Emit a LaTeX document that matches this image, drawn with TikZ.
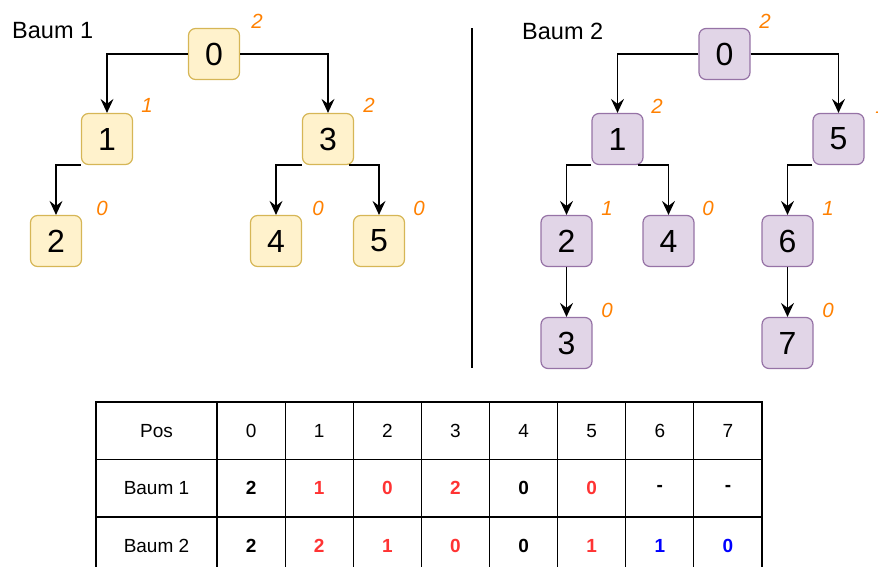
\documentclass[tikz,border=0pt]{standalone}
\usepackage{fontspec}
\setmainfont{Liberation Sans}
\usetikzlibrary{arrows.meta}

\definecolor{yfill}{HTML}{FFF2CC}
\definecolor{ydraw}{HTML}{D6B656}
\definecolor{pfill}{HTML}{E1D5E7}
\definecolor{pdraw}{HTML}{9673A6}
\definecolor{deg}{HTML}{FF8000}
\definecolor{hot}{HTML}{FF3333}
\definecolor{cool}{HTML}{0000FF}

\tikzset{
  treenode/.style={rounded corners=7pt, minimum width=51pt, minimum height=51pt,
    inner sep=0pt, line width=1.2pt, font=\fontsize{32}{32}\selectfont},
  yellownode/.style={treenode, fill=yfill, draw=ydraw},
  purplenode/.style={treenode, fill=pfill, draw=pdraw},
  degree/.style={text=deg, inner sep=0pt, font=\fontsize{20.5}{20.5}\selectfont\itshape},
  title/.style={anchor=west, inner sep=0pt, font=\fontsize{23.5}{23.5}\selectfont},
  link/.style={line width=1.3pt, -{Stealth[length=14pt,width=13pt,inset=5pt]}},
  cell/.style={draw, line width=1.2pt, minimum height=57.5pt, minimum width=68.125pt,
    inner sep=0pt, font=\fontsize{19}{19}\selectfont},
  headcell/.style={cell, minimum width=121pt},
  valcell/.style={cell, font=\fontsize{19}{19}\selectfont\bfseries},
}

\begin{document}
\begin{tikzpicture}[x=1pt, y=-1pt]
\useasboundingbox (0,0) rectangle (878,566);

% ---------- tree 1 ----------
\node[title] (title1) at (12,31) {Baum 1};
\node[yellownode] (t1n0) at (214,54)  {0};
\node[yellownode] (t1n1) at (107,139) {1};
\node[yellownode] (t1n3) at (328,139) {3};
\node[yellownode] (t1n2) at (56,241)  {2};
\node[yellownode] (t1n4) at (276,241) {4};
\node[yellownode] (t1n5) at (379,241) {5};

\node[degree] (d1n0) at (257,21)  {2};
\node[degree] (d1n1) at (147,105) {1};
\node[degree] (d1n3) at (369,105) {2};
\node[degree] (d1n2) at (102,208) {0};
\node[degree] (d1n4) at (318,208) {0};
\node[degree] (d1n5) at (419,208) {0};

\draw[link] (t1n0.west) -| (t1n1.north);
\draw[link] (t1n0.east) -| (t1n3.north);
\draw[link] (t1n1.south west) -| (t1n2.north);
\draw[link] (t1n3.south west) -| (t1n4.north);
\draw[link] ([xshift=-5pt]t1n3.south east) -| (t1n5.north);

% ---------- separator ----------
\coordinate (septop) at (472,28);
\coordinate (sepbot) at (472,368);
\draw[line width=1.1pt] (septop) -- (sepbot);

% ---------- tree 2 ----------
\node[title] (title2) at (522,31) {Baum 2};
\node[purplenode] (t2n0) at (724.5,54)  {0};
\node[purplenode] (t2n1) at (617.5,139) {1};
\node[purplenode] (t2n5) at (838.5,139) {5};
\node[purplenode] (t2n2) at (566.5,241) {2};
\node[purplenode] (t2n4) at (668.5,241) {4};
\node[purplenode] (t2n6) at (787.5,241) {6};
\node[purplenode] (t2n3) at (566.5,343) {3};
\node[purplenode] (t2n7) at (787.5,343) {7};

\node[degree] (d2n0) at (765,21)  {2};
\node[degree] (d2n1) at (657,106) {2};
\node[degree] (d2n5) at (881,106) {1};
\node[degree] (d2n2) at (607,208) {1};
\node[degree] (d2n4) at (708,208) {0};
\node[degree] (d2n6) at (828,208) {1};
\node[degree] (d2n3) at (607,310) {0};
\node[degree] (d2n7) at (828,310) {0};

\draw[link] (t2n0.west) -| (t2n1.north);
\draw[link] (t2n0.east) -| (t2n5.north);
\draw[link] (t2n1.south west) -| (t2n2.north);
\draw[link] ([xshift=-6pt]t2n1.south east) -| (t2n4.north);
\draw[link] (t2n5.south west) -| (t2n6.north);
\draw[link] (t2n2) -- (t2n3);
\draw[link] (t2n6) -- (t2n7);

% ---------- table ----------
\node[headcell] (pos)   at (156.5,430.75) {Pos};
\node[headcell] (rowa)  at (156.5,488.25) {Baum 1};
\node[headcell] (rowb)  at (156.5,545.75) {Baum 2};
\foreach \k in {0,...,7}
  \node[cell] (hd\k) at ({217+68.125*(\k+0.5)},430.75) {\k};
\foreach \k/\v/\c in {0/2/black,1/1/hot,2/0/hot,3/2/hot,4/0/black,5/0/hot,6/-/black,7/-/black}
  \node[valcell, text=\c] (ra\k) at ({217+68.125*(\k+0.5)},488.25) {\v};
\foreach \k/\v/\c in {0/2/black,1/2/hot,2/1/hot,3/0/hot,4/0/black,5/1/hot,6/1/cool,7/0/cool}
  \node[valcell, text=\c] (rb\k) at ({217+68.125*(\k+0.5)},545.75) {\v};
\end{tikzpicture}
\end{document}
